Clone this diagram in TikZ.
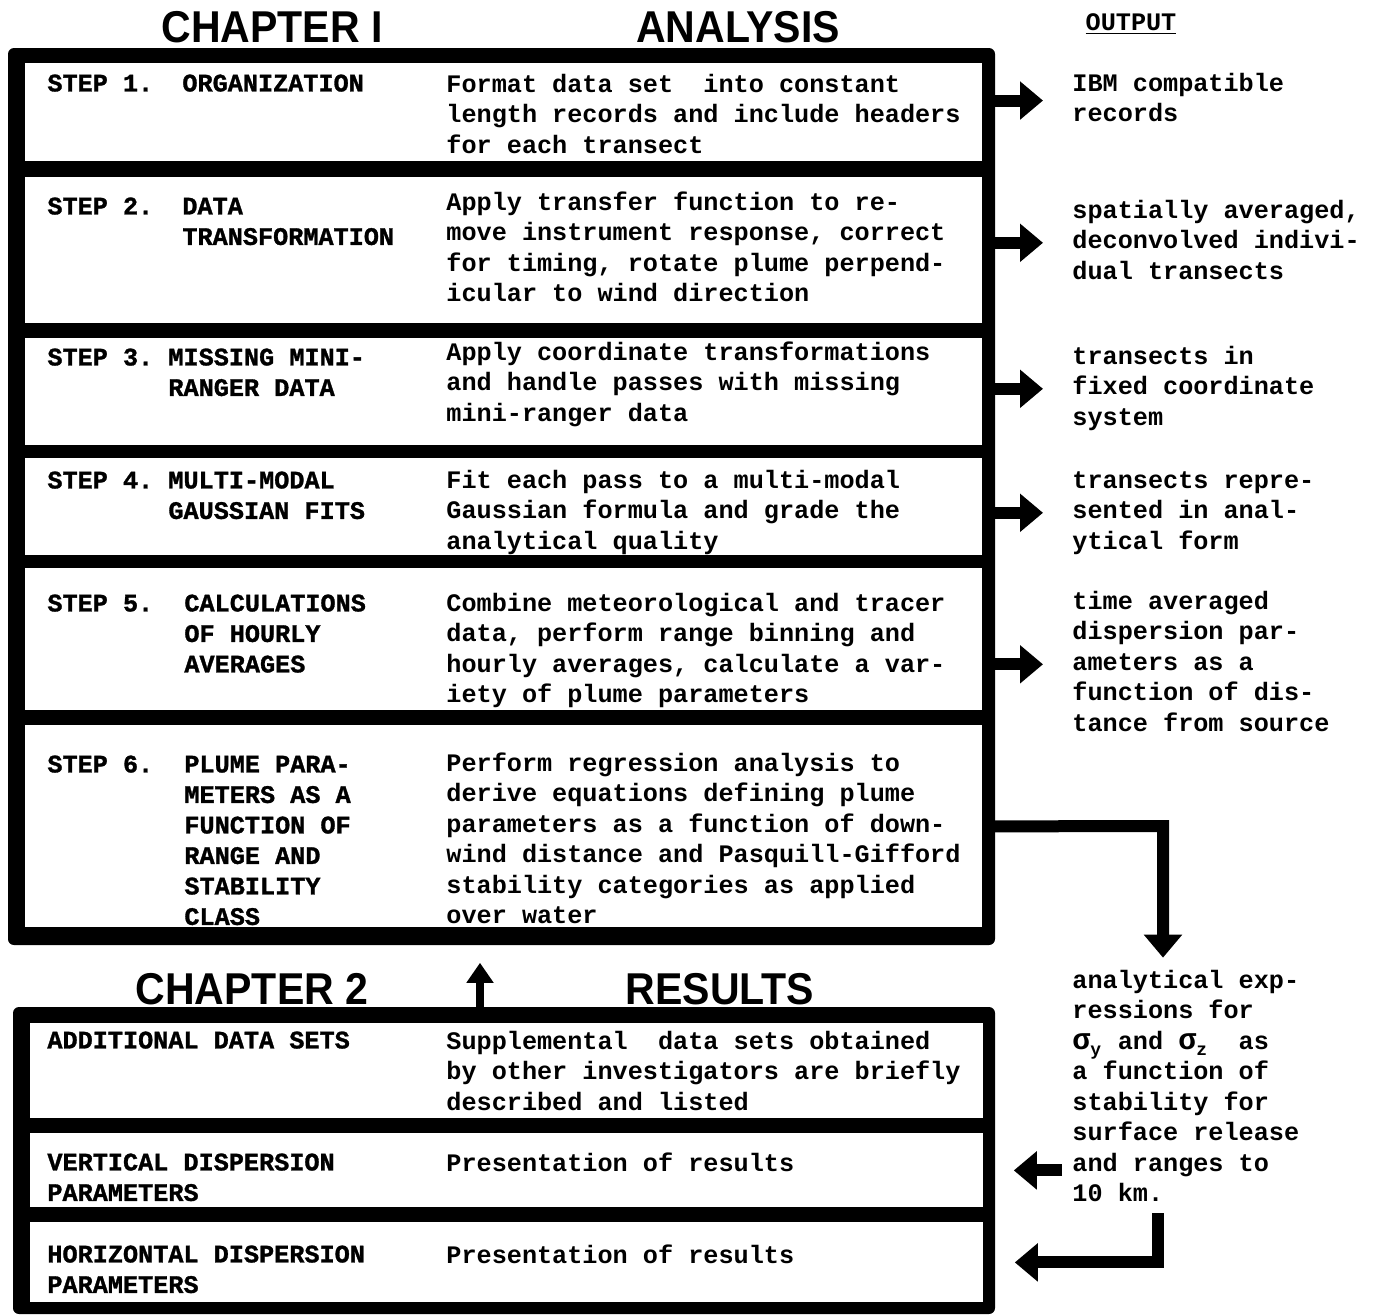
\documentclass[tikz,border=0pt]{standalone}
\usepackage{fontspec}
\usetikzlibrary{arrows.meta}
\newfontfamily\twfont{Liberation Mono}
\newfontfamily\lbfont[FakeBold=1.2]{Liberation Mono}
\newfontfamily\hdfont[FakeStretch=0.92]{Liberation Sans}
\newcommand{\sgm}[1]{\makebox[1.2em][l]{\fontsize{15}{15}\selectfont σ\raisebox{-0.4ex}{\fontsize{9}{9}\selectfont #1}}}
\tikzset{
  plaintext/.style={inner sep=0pt, font=\twfont\bfseries\fontsize{12.6}{15.25}\selectfont},
  desctext/.style={inner sep=0pt, align=left, anchor=north west, yshift=11.675pt, font=\twfont\bfseries\fontsize{12.6}{15.25}\selectfont\strut},
  steptext/.style={desctext, font=\lbfont\bfseries\fontsize{12.6}{15.25}\selectfont\strut},
  chaphead/.style={inner sep=0pt, font=\hdfont\bfseries\fontsize{22.3}{26}\selectfont},
  rowbox/.style={fill=white, inner sep=0pt, anchor=north west, minimum width=478.5pt},
  bigarrow/.style={line width=6pt, -{Triangle[length=11.5pt,width=18.5pt]}},
  uparrow/.style={line width=4pt, -{Triangle[length=10pt,width=13pt]}},
}
\begin{document}
\begin{tikzpicture}[x=0.5pt,y=-0.5pt]
  %%%%% START %%%%%
  \def\xl{47}
  \def\xd{446}
  \def\xo{1072}
  \useasboundingbox (0,0) rectangle (1377,1314);

  \node[chaphead] (h1) at (272,27) {CHAPTER I};
  \node[chaphead] (h2) at (738,27) {ANALYSIS};
  \node[plaintext, anchor=base] (out) at (1131,30) {\underline{OUTPUT}};

  % chapter 1 frame and rows
  \fill[rounded corners=3pt] (8,48) rectangle (995,945);
  \node[rowbox, minimum height=49pt] (s1) at (25,63) {};
  \node[rowbox, minimum height=73pt] (s2) at (25,177) {};
  \node[rowbox, minimum height=53.5pt] (s3) at (25,338) {};
  \node[rowbox, minimum height=48.5pt] (s4) at (25,458) {};
  \node[rowbox, minimum height=71pt] (s5) at (25,568) {};
  \node[rowbox, minimum height=101pt] (s6) at (25,725) {};

  \node[steptext] (l1) at (\xl,93) {STEP 1.};
  \node[steptext] (t1) at (182,93) {ORGANIZATION};
  \node[desctext] (d1) at (\xd,94) {\strut Format data set~ into constant\\length records and include headers\\for each transect};
  \node[desctext] (o1) at (\xo,93) {\strut IBM compatible\\records};

  \node[steptext] (l2) at (\xl,216) {STEP 2.};
  \node[steptext] (t2) at (182,216) {\strut DATA\\TRANSFORMATION};
  \node[desctext] (d2) at (\xd,212) {\strut Apply transfer function to re-\\move instrument response, correct\\for timing, rotate plume perpend-\\icular to wind direction};
  \node[desctext] (o2) at (\xo,220) {\strut spatially averaged,\\deconvolved indivi-\\dual transects};

  \node[steptext] (l3) at (\xl,367) {STEP 3.};
  \node[steptext] (t3) at (168,367) {\strut MISSING MINI-\\RANGER DATA};
  \node[desctext] (d3) at (\xd,362) {\strut Apply coordinate transformations\\and handle passes with missing\\mini-ranger data};
  \node[desctext] (o3) at (\xo,366) {\strut transects in\\fixed coordinate\\system};

  \node[steptext] (l4) at (\xl,490) {STEP 4.};
  \node[steptext] (t4) at (168,490) {\strut MULTI-MODAL\\GAUSSIAN FITS};
  \node[desctext] (d4) at (\xd,490) {\strut Fit each pass to a multi-modal\\Gaussian formula and grade the\\analytical quality};
  \node[desctext] (o4) at (\xo,490) {\strut transects repre-\\sented in anal-\\ytical form};

  \node[steptext] (l5) at (\xl,613) {STEP 5.};
  \node[steptext] (t5) at (184,613) {\strut CALCULATIONS\\OF HOURLY\\AVERAGES};
  \node[desctext] (d5) at (\xd,613) {\strut Combine meteorological and tracer\\data, perform range binning and\\hourly averages, calculate a var-\\iety of plume parameters};
  \node[desctext] (o5) at (\xo,611) {\strut time averaged\\dispersion par-\\ameters as a\\function of dis-\\tance from source};

  \node[steptext] (l6) at (\xl,774) {STEP 6.};
  \node[steptext] (t6) at (184,774) {\strut PLUME PARA-\\METERS AS A\\FUNCTION OF\\RANGE AND\\STABILITY\\CLASS};
  \node[desctext] (d6) at (\xd,773) {\strut Perform regression analysis to\\derive equations defining plume\\parameters as a function of down-\\wind distance and Pasquill-Gifford\\stability categories as applied\\over water};
  \node[desctext] (o6) at (\xo,990) {\strut analytical exp-\\ressions for\\\sgm{y} and \sgm{z}~ as\\a function of\\stability for\\surface release\\and ranges to\\10 km.};

  % chapter 2 frame and rows
  \node[chaphead] (h3) at (252,989) {CHAPTER 2};
  \node[chaphead] (h4) at (720,989) {RESULTS};
  \fill[rounded corners=3pt] (13,1007) rectangle (995,1314);
  \node[rowbox, minimum width=476.5pt, minimum height=47.5pt] (r1) at (30,1023) {};
  \node[rowbox, minimum width=476.5pt, minimum height=37pt] (r2) at (30,1133) {};
  \node[rowbox, minimum width=476.5pt, minimum height=40pt] (r3) at (30,1222) {};

  \node[steptext] (a1) at (\xl,1050) {ADDITIONAL DATA SETS};
  \node[desctext] (b1) at (\xd,1051) {\strut Supplemental~ data sets obtained\\by other investigators are briefly\\described and listed};
  \node[steptext] (a2) at (\xl,1172) {\strut VERTICAL DISPERSION\\PARAMETERS};
  \node[desctext] (b2) at (\xd,1173) {Presentation of results};
  \node[steptext] (a3) at (\xl,1264) {\strut HORIZONTAL DISPERSION\\PARAMETERS};
  \node[desctext] (b3) at (\xd,1265) {Presentation of results};

  % arrows to the outputs
  \draw[bigarrow, shorten >=14.5pt] (o1.west -| s1.east) -- (o1.west);
  \draw[bigarrow, shorten >=14.5pt] (o2.west -| s2.east) -- (o2.west);
  \draw[bigarrow, shorten >=14.5pt] (o3.west -| s3.east) -- (o3.west);
  \draw[bigarrow, shorten >=14.5pt] (o4.west -| s4.east) -- (o4.west);
  \draw[bigarrow, shorten >=14.5pt] (o5.west -| s5.east) -- (o5.west);

  \coordinate (k6) at (1163,826);
  \draw[bigarrow, shorten >=4.5pt] (s6.east) -- (k6) -- (k6 |- o6.north);

  \draw[bigarrow, shorten <=5pt, shorten >=15pt] (o6.west |- r2.east) -- (r2.east);
  \coordinate (k7) at (1158,1213);
  \draw[bigarrow, shorten >=15.5pt] (k7) |- (r3.east);

  \coordinate (k8) at (480,1007);
  \draw[uparrow, shorten >=17.5pt] (k8) -- (k8 |- s6.south);
  %%%%% START %%%%%
\end{tikzpicture}
\end{document}
